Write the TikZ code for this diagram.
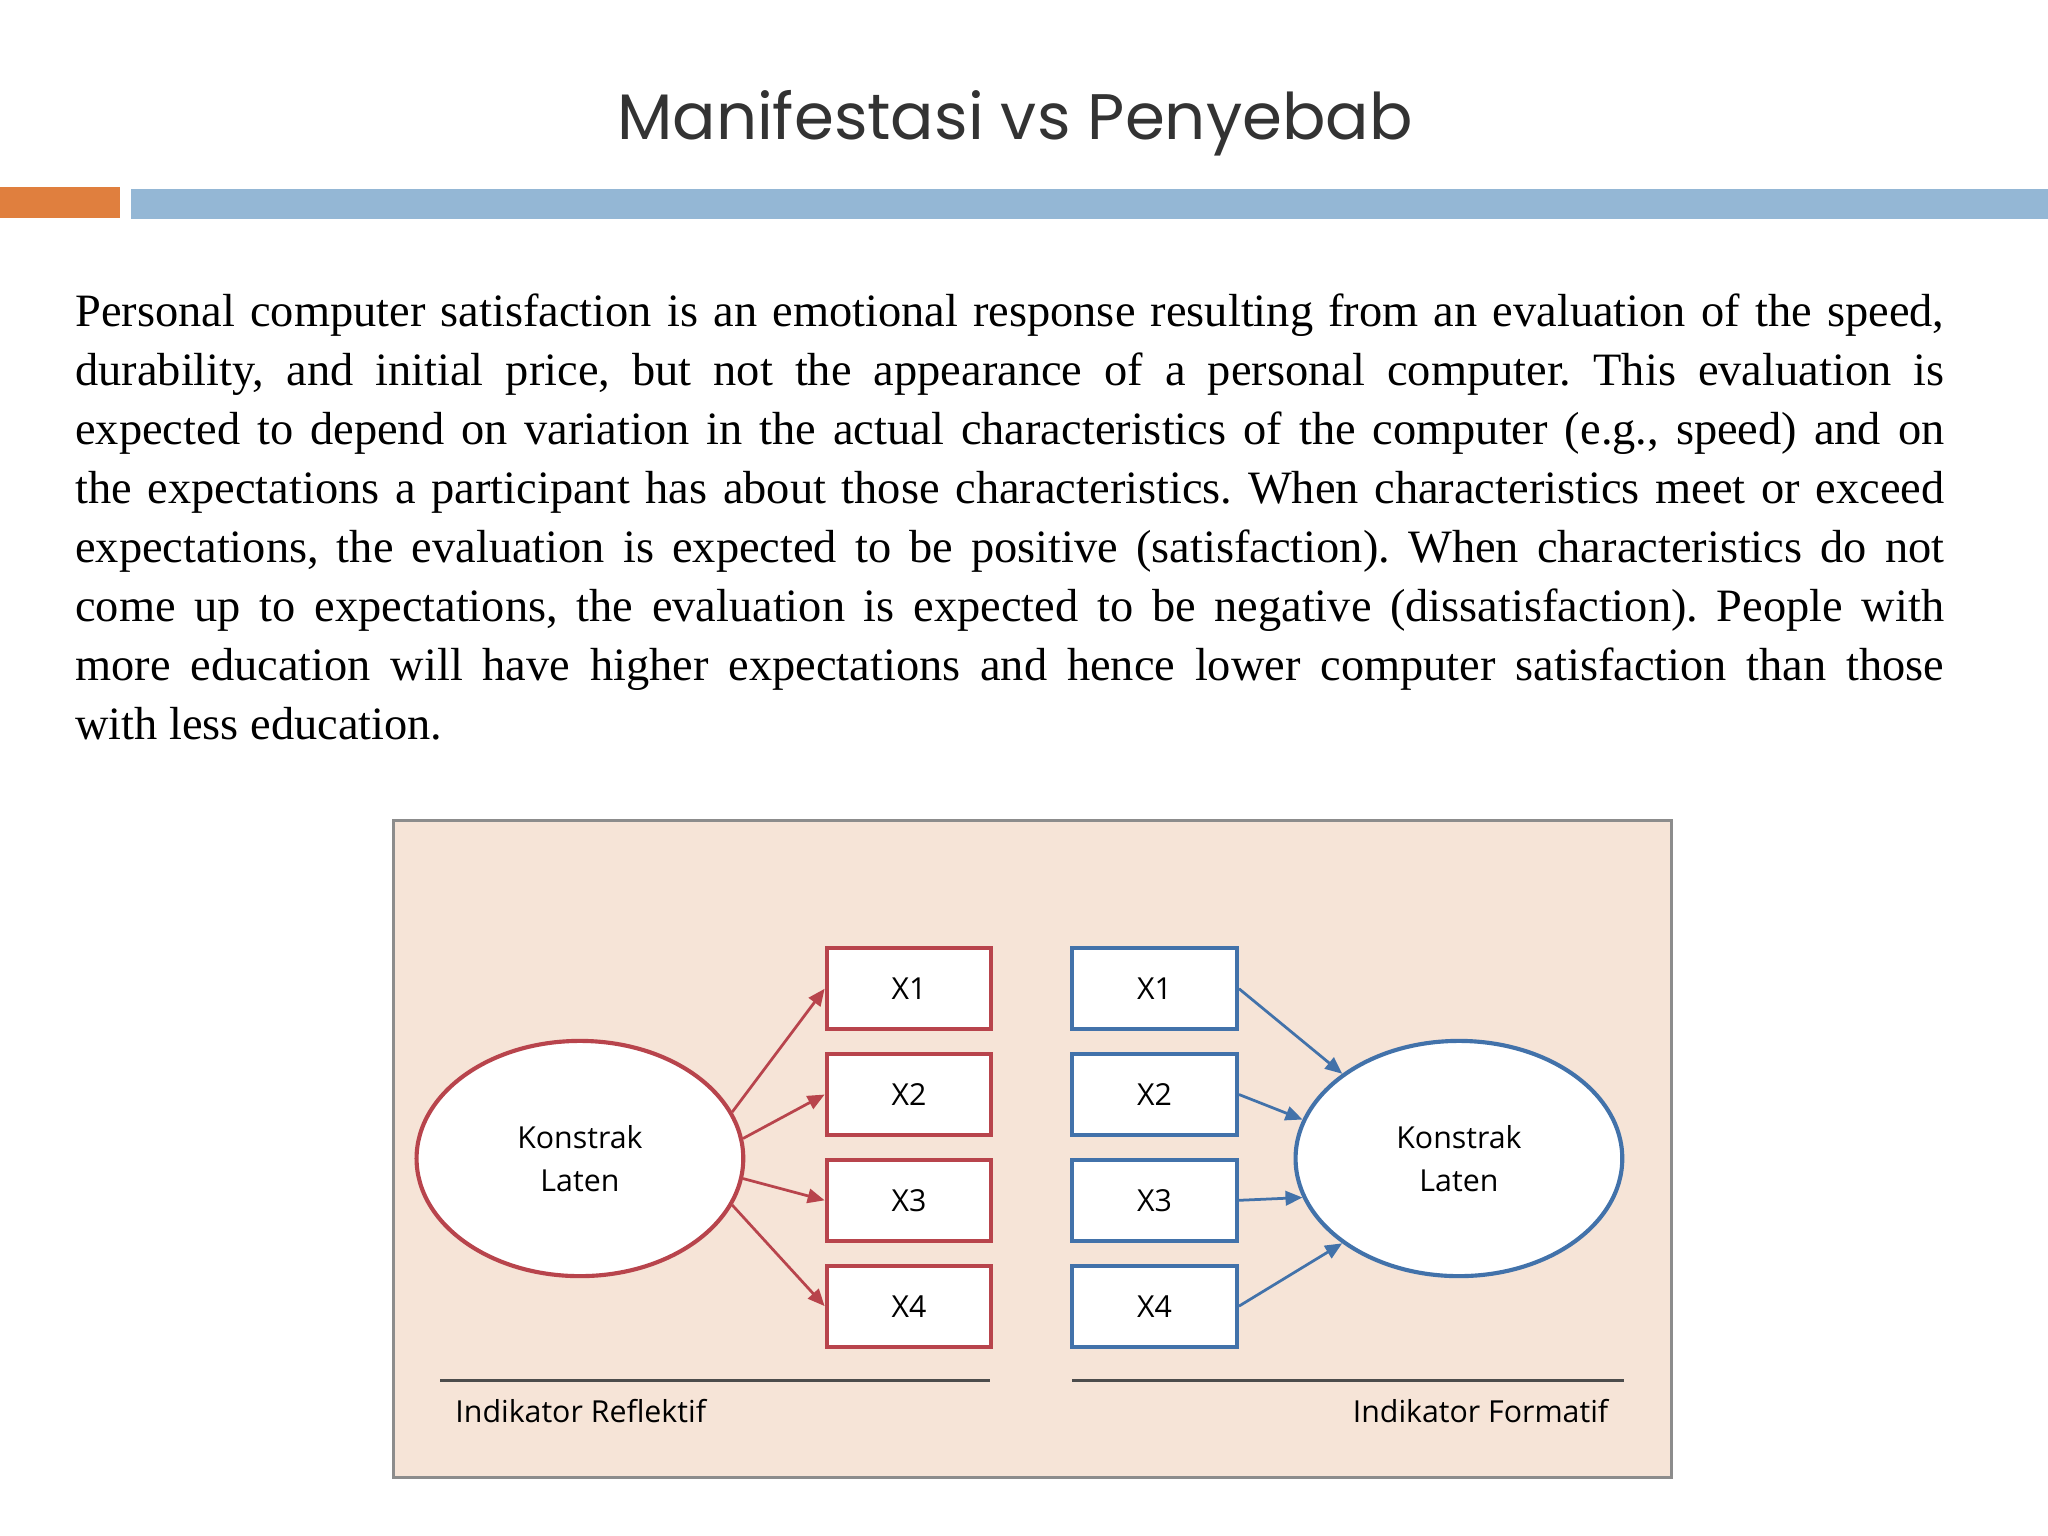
\documentclass[tikz,border=0pt]{standalone}
\usepackage{fontspec}
\setmainfont{Liberation Serif}
\newfontfamily\titlefont{Poppins}
\newfontfamily\diafont{Open Sans}
\usetikzlibrary{arrows.meta,shapes.geometric}
\definecolor{redc}{HTML}{B8444C}
\definecolor{bluec}{HTML}{4272AA}
\definecolor{peach}{HTML}{F6E4D7}
\definecolor{orangebar}{HTML}{E07F3E}
\definecolor{bluebar}{HTML}{94B7D5}
\tikzset{
 rbox/.style={draw=redc,line width=0.9pt,fill=white,minimum width=1.26cm,minimum height=0.62cm,inner sep=0,font=\diafont\fontsize{6.6}{8}\selectfont},
 bbox/.style={rbox,draw=bluec},
 ell/.style={ellipse,line width=0.9pt,fill=white,minimum width=2.5cm,minimum height=1.8cm,inner sep=0,align=center,font=\diafont\fontsize{6.6}{9.2}\selectfont},
 rarr/.style={draw=redc,line width=0.6pt,-{Triangle[length=1.3mm,width=1.1mm]}},
 barr/.style={rarr,draw=bluec,fill=bluec},
 lab/.style={font=\diafont\fontsize{6.6}{8}\selectfont,inner sep=0}
}
\begin{document}
\begin{tikzpicture}[x=0.01cm,y=-0.01cm]
\useasboundingbox (0,0) rectangle (1568,1176);
\fill[white] (0,0) rectangle (1568,1176);
\node[font=\titlefont\fontsize{14}{17}\selectfont,text=black!80] (title) at (777,94) {Manifestasi vs Penyebab};
\fill[orangebar] (0,143) rectangle (92,167);
\fill[bluebar] (100,145) rectangle (1568,168);
\node[anchor=north west,inner sep=0,text width=14.3cm,align=justify,font=\frenchspacing\fontsize{10.1}{12.85}\selectfont] (para) at (57,224) {%
Personal computer satisfaction is an emotional response resulting from an evaluation of the speed, \linebreak
durability, and initial price, but not the appearance of a personal computer. This evaluation is \linebreak
expected to depend on variation in the actual characteristics of the computer (e.g., speed) and on \linebreak
the expectations a participant has about those characteristics. When characteristics meet or exceed \linebreak
expectations, the evaluation is expected to be positive (satisfaction). When characteristics do not \linebreak
come up to expectations, the evaluation is expected to be negative (dissatisfaction). People with \linebreak
more education will have higher expectations and hence lower computer satisfaction than those \linebreak
with less education.};
\draw[fill=peach,draw=black!45,line width=0.6pt] (301,628) rectangle (1280,1131);
\node[ell,draw=redc] (L) at (444,887) {Konstrak\\Laten};
\node[ell,draw=bluec] (R) at (1117,887) {Konstrak\\Laten};
\node[rbox] (a1) at (696,757) {X1};
\node[rbox] (a2) at (696,838) {X2};
\node[rbox] (a3) at (696,919) {X3};
\node[rbox] (a4) at (696,1000) {X4};
\node[bbox] (b1) at (884,757) {X1};
\node[bbox] (b2) at (884,838) {X2};
\node[bbox] (b3) at (884,919) {X3};
\node[bbox] (b4) at (884,1000) {X4};
\draw[rarr,fill=redc] (L.17) -- (a1.west);
\draw[rarr,fill=redc] (L.7) -- (a2.west);
\draw[rarr,fill=redc] (L.-7) -- (a3.west);
\draw[rarr,fill=redc] (L.-17) -- (a4.west);
\draw[barr] (b1.east) -- (R.144);
\draw[barr] (b2.east) -- (R.166);
\draw[barr] (b3.east) -- (R.194);
\draw[barr] (b4.east) -- (R.216);
\coordinate (l1) at (337,1057); \coordinate (l2) at (758,1057);
\coordinate (r1) at (821,1057); \coordinate (r2) at (1243,1057);
\draw[black!70,line width=0.5pt] (l1) -- (l2);
\draw[black!70,line width=0.5pt] (r1) -- (r2);
\node[lab,anchor=west] (t1) at (348,1080) {Indikator Reflektif};
\node[lab,anchor=east] (t2) at (1232,1080) {Indikator Formatif};
\end{tikzpicture}
\end{document}
